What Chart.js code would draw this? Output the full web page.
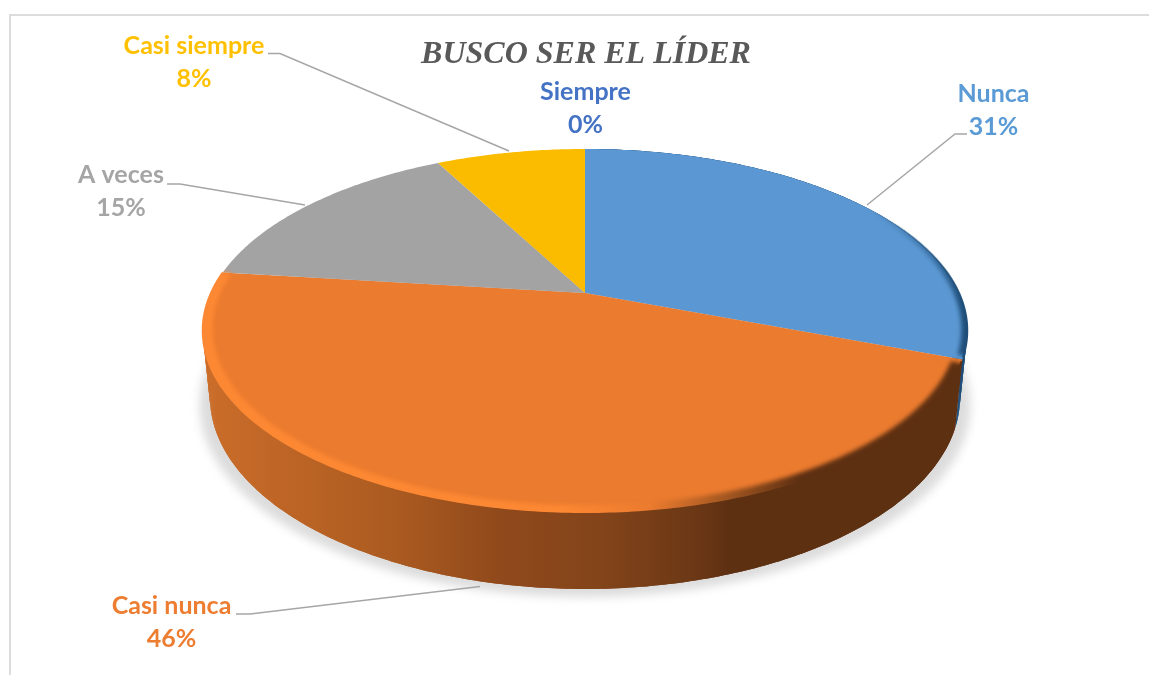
<!DOCTYPE html>
<html>
<head>
<meta charset="utf-8">
<style>
  html, body { margin: 0; padding: 0; background: #fff; }
  canvas { display: block; }
</style>
<script src="https://cdn.jsdelivr.net/npm/chart.js@4"></script>
</head>
<body>
<canvas id="pieChart" width="1149" height="675"></canvas>
<script>
// datos (13 respuestas)
const categories = ['Nunca', 'Casi nunca', 'A veces', 'Casi siempre', 'Siempre'];
const counts = [4, 6, 2, 1, 0];
const sliceColors = ['#5b98d3', '#eb7b2f', '#a3a3a3', '#fbbc00', '#4472c4'];
const labelColors = ['#5b9bd5', '#ed7d31', '#a5a5a5', '#ffc000', '#4472c4'];
const wallColors = ['#1f4e79', null, null, null, null];

// posicion de las etiquetas y de sus lineas guia
const labelCenters = [[993.5, 102], [171.5, 614], [121, 183], [194, 54], [585.5, 100]];
const leaderLines = [
    [[967, 134], [955, 134], [867, 205]],
    [[236, 614], [250, 614], [480, 586.5]],
    [[167, 184], [180, 184], [305, 205]],
    [[268, 53.5], [280, 53.5], [509, 151]],
    null
];

// perspectiva: la cara superior y la base son circulos proyectados
const persp = 0.2066;
const topRing = { cx: 585, y0: 293, rx: 374, ry: 173.75 };
const baseRing = { cx: 585, y0: 357.3, rx: 367, ry: 183.8 };

function ringPoint(ring, angle, scale) {
    const u = Math.cos(angle) * scale;
    const v = Math.sin(angle) * scale;
    const d = 1 - persp * v;
    return [ring.cx + ring.rx * u / d, ring.y0 + ring.ry * v / d];
}

function traceArc(ctx, ring, from, to, scale) {
    const steps = Math.max(2, Math.ceil(Math.abs(to - from) * 80));
    for (let i = 0; i <= steps; i++) {
        const p = ringPoint(ring, from + (to - from) * i / steps, scale);
        ctx.lineTo(p[0], p[1]);
    }
}

function traceBand(ctx, ringA, ringB, from, to, scaleA, scaleB) {
    ctx.beginPath();
    traceArc(ctx, ringA, from, to, scaleA);
    traceArc(ctx, ringB, to, from, scaleB);
    ctx.closePath();
}

// la pared se pinta en tiras solapadas para que la silueta salga recta
function fillWall(ctx, from, to) {
    const steps = Math.ceil((to - from) * 80);
    const da = (to - from) / steps;
    for (let i = 0; i < steps; i++) {
        const a = from + da * i;
        const b = Math.min(to, a + da * 2);
        traceBand(ctx, topRing, baseRing, a, b, 1, 1);
        ctx.fill();
    }
}

function horizontalGradient(ctx, stops) {
    const g = ctx.createLinearGradient(0, 0, 1149, 0);
    stops.forEach(s => g.addColorStop(s[0] / 1149, s[1]));
    return g;
}

const pie3d = {
    id: 'pie3d',
    beforeDatasetDraw(chart, args) {
        const ctx = chart.ctx;
        const arcs = args.meta.data;
        ctx.save();

        // sombra bajo el disco
        ctx.save();
        ctx.filter = 'blur(5px)';
        ctx.fillStyle = '#dcdcdc';
        ctx.beginPath();
        traceArc(ctx, { ...baseRing, y0: baseRing.y0 + 8, rx: baseRing.rx + 10 }, 0, Math.PI * 2, 1);
        ctx.closePath();
        ctx.fill();
        ctx.restore();

        // paredes laterales
        arcs.forEach((arc, i) => {
            if (arc.endAngle - arc.startAngle <= 0) return;
            if (i === 1) {
                ctx.fillStyle = horizontalGradient(ctx, [
                    [205, '#cb6d2a'], [400, '#aa5a20'], [500, '#90491b'], [600, '#83441a'],
                    [700, '#6a3715'], [728, '#5e3012'], [970, '#5e3012']
                ]);
            } else if (wallColors[i]) {
                ctx.fillStyle = wallColors[i];
            } else {
                return;
            }
            fillWall(ctx, arc.startAngle, arc.endAngle);
        });

        // cara superior
        arcs.forEach((arc, i) => {
            if (arc.endAngle - arc.startAngle <= 0) return;
            ctx.fillStyle = sliceColors[i];
            ctx.beginPath();
            ctx.moveTo(topRing.cx, topRing.y0);
            traceArc(ctx, topRing, arc.startAngle, arc.endAngle, 1);
            ctx.closePath();
            ctx.fill();
        });

        // bisel del borde
        const rimOrange = horizontalGradient(ctx, [
            [200, '#fd8833'], [560, '#fd8833'], [650, '#eb7b2f'],
            [720, '#a85a22'], [800, '#5e3012'], [970, '#5e3012']
        ]);
        const rimBlue = horizontalGradient(ctx, [
            [870, 'rgba(31,78,121,0)'], [930, 'rgba(31,78,121,0.5)'], [965, 'rgba(31,78,121,1)']
        ]);
        ctx.save();
        ctx.beginPath();
        traceArc(ctx, topRing, 0, Math.PI * 2, 1);
        ctx.closePath();
        ctx.clip();
        ctx.filter = 'blur(2px)';
        ctx.fillStyle = rimOrange;
        traceBand(ctx, topRing, topRing, arcs[1].startAngle + 0.02, arcs[1].endAngle, 1.04, 0.975);
        ctx.fill();
        ctx.fillStyle = rimBlue;
        traceBand(ctx, topRing, topRing, arcs[0].startAngle + 0.5, arcs[0].endAngle - 0.02, 1.04, 0.985);
        ctx.fill();
        ctx.restore();

        // tapa la costura entre bisel y pared
        ctx.lineWidth = 2;
        ctx.strokeStyle = rimOrange;
        ctx.beginPath();
        traceArc(ctx, topRing, arcs[1].startAngle + 0.01, arcs[1].endAngle, 1);
        ctx.stroke();
        ctx.strokeStyle = rimBlue;
        ctx.beginPath();
        traceArc(ctx, topRing, arcs[0].startAngle + 0.5, arcs[0].endAngle - 0.01, 1);
        ctx.stroke();

        ctx.restore();
        return false;
    },
    afterDraw(chart) {
        const ctx = chart.ctx;
        ctx.save();

        // marco
        ctx.strokeStyle = '#dcdcdc';
        ctx.lineWidth = 2;
        ctx.beginPath();
        ctx.moveTo(10, 675);
        ctx.lineTo(10, 15);
        ctx.lineTo(1149, 15);
        ctx.stroke();

        // lineas guia
        ctx.strokeStyle = '#a6a6a6';
        ctx.lineWidth = 1.5;
        leaderLines.forEach(line => {
            if (!line) return;
            ctx.beginPath();
            line.forEach(p => ctx.lineTo(p[0], p[1]));
            ctx.stroke();
        });

        // etiquetas
        const total = counts.reduce((a, b) => a + b, 0);
        ctx.font = 'bold 25px Lato';
        ctx.textAlign = 'center';
        ctx.textBaseline = 'alphabetic';
        categories.forEach((name, i) => {
            ctx.fillStyle = labelColors[i];
            ctx.fillText(name, labelCenters[i][0], labelCenters[i][1]);
            ctx.fillText(Math.round(counts[i] / total * 100) + '%', labelCenters[i][0], labelCenters[i][1] + 33);
        });
        ctx.restore();
    }
};

new Chart(document.getElementById('pieChart'), {
    type: 'pie',
    data: {
        labels: categories,
        datasets: [{ data: counts, backgroundColor: sliceColors, borderWidth: 0 }]
    },
    options: {
        responsive: false,
        animation: false,
        layout: { padding: { left: 23 } },
        plugins: {
            legend: { display: false },
            tooltip: { enabled: false },
            title: {
                display: true,
                text: 'BUSCO SER EL LÍDER',
                fullSize: false,
                color: '#595959',
                font: { family: 'Liberation Serif', size: 32, weight: 'bold', style: 'italic' },
                padding: { top: 36, bottom: 10 }
            }
        }
    },
    plugins: [pie3d]
});
</script>
</body>
</html>
